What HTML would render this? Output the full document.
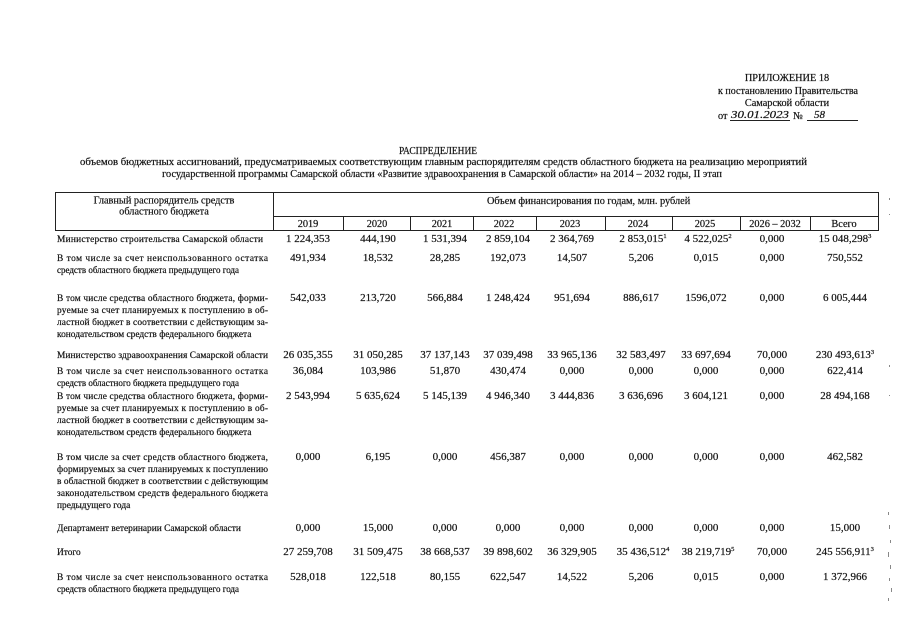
<!DOCTYPE html>
<html><head><meta charset="utf-8"><style>
html,body{margin:0;padding:0;background:#fff;}
svg{display:block;}
text{font-family:"Liberation Serif",serif;fill:#111;font-size:10.3px;stroke:#111;stroke-width:0.2;}
.n text{font-size:11px;}
.lb text{font-size:9.4px;}
.l{stroke:#222;stroke-width:1;fill:none;}
</style></head><body>
<svg width="905" height="640" viewBox="0 0 905 640" xmlns="http://www.w3.org/2000/svg">
<rect width="905" height="640" fill="#fff"/>
<!-- top right block -->
<text x="787" y="81" text-anchor="middle">ПРИЛОЖЕНИЕ 18</text>
<text x="788" y="94" text-anchor="middle" textLength="140" lengthAdjust="spacingAndGlyphs">к постановлению Правительства</text>
<text x="787" y="106" text-anchor="middle">Самарской области</text>
<text x="718" y="119">от</text>
<text x="731" y="118" style="font-style:italic;font-size:11px" textLength="58" lengthAdjust="spacingAndGlyphs">30.01.2023</text>
<text x="793" y="119">№</text>
<text x="814" y="118" style="font-style:italic;font-size:11px">58</text>
<line class="l" x1="730" y1="120.5" x2="790" y2="120.5" stroke-width="0.8"/>
<line class="l" x1="807" y1="120.5" x2="858" y2="120.5" stroke-width="0.8"/>
<!-- title -->
<text x="399" y="154" textLength="78" lengthAdjust="spacingAndGlyphs">РАСПРЕДЕЛЕНИЕ</text>
<text x="80" y="165" textLength="727" lengthAdjust="spacingAndGlyphs">объемов бюджетных ассигнований, предусматриваемых соответствующим главным распорядителям средств областного бюджета на реализацию мероприятий</text>
<text x="442" y="177" text-anchor="middle">государственной программы Самарской области «Развитие здравоохранения в Самарской области» на 2014 – 2032 годы, II этап</text>
<!-- table header lines -->
<line class="l" x1="55" y1="192.5" x2="879" y2="192.5"/>
<line class="l" x1="273" y1="216.5" x2="879" y2="216.5"/>
<line class="l" x1="55" y1="230.5" x2="879" y2="230.5"/>
<line class="l" x1="55.5" y1="192" x2="55.5" y2="231"/>
<line class="l" x1="273.5" y1="192" x2="273.5" y2="231"/>
<line class="l" x1="878.5" y1="192" x2="878.5" y2="231"/>
<line class="l" x1="343.5" y1="216" x2="343.5" y2="231" stroke-width="1.6"/>
<line class="l" x1="410.5" y1="216" x2="410.5" y2="231"/>
<line class="l" x1="473.5" y1="216" x2="473.5" y2="231"/>
<line class="l" x1="536.5" y1="216" x2="536.5" y2="231"/>
<line class="l" x1="605.5" y1="216" x2="605.5" y2="231"/>
<line class="l" x1="672.5" y1="216" x2="672.5" y2="231"/>
<line class="l" x1="740.5" y1="216" x2="740.5" y2="231"/>
<line class="l" x1="810.5" y1="216" x2="810.5" y2="231"/>
<text x="164" y="203.5" text-anchor="middle">Главный распорядитель средств</text>
<text x="164" y="214.5" text-anchor="middle">областного бюджета</text>
<text x="487" y="204">Объем финансирования по годам, млн. рублей</text>
<g text-anchor="middle">
<text x="308" y="227">2019</text>
<text x="377" y="227">2020</text>
<text x="442" y="227">2021</text>
<text x="504" y="227">2022</text>
<text x="570" y="227">2023</text>
<text x="638" y="227">2024</text>
<text x="705" y="227">2025</text>
<text x="775" y="227">2026 – 2032</text>
<text x="844" y="227">Всего</text>
</g>
<!-- labels -->
<g class="lb">
<text x="57" y="242" textLength="206" lengthAdjust="spacing">Министерство строительства Самарской области</text>
<text x="57" y="261" textLength="211" lengthAdjust="spacing">В том числе за счет неиспользованного остатка</text>
<text x="57" y="273" textLength="182" lengthAdjust="spacingAndGlyphs">средств областного бюджета предыдущего года</text>
<text x="57" y="301" textLength="211" lengthAdjust="spacing">В том числе средства областного бюджета, форми-</text>
<text x="57" y="313" textLength="211" lengthAdjust="spacing">руемые за счет планируемых к поступлению в об-</text>
<text x="57" y="325" textLength="211" lengthAdjust="spacing">ластной бюджет в соответствии с действующим за-</text>
<text x="57" y="337">конодательством средств федерального бюджета</text>
<text x="57" y="358" textLength="211" lengthAdjust="spacing">Министерство здравоохранения Самарской области</text>
<text x="57" y="374" textLength="211" lengthAdjust="spacing">В том числе за счет неиспользованного остатка</text>
<text x="57" y="386" textLength="182" lengthAdjust="spacingAndGlyphs">средств областного бюджета предыдущего года</text>
<text x="57" y="399" textLength="211" lengthAdjust="spacing">В том числе средства областного бюджета, форми-</text>
<text x="57" y="411" textLength="211" lengthAdjust="spacing">руемые за счет планируемых к поступлению в об-</text>
<text x="57" y="423" textLength="211" lengthAdjust="spacing">ластной бюджет в соответствии с действующим за-</text>
<text x="57" y="435">конодательством средств федерального бюджета</text>
<text x="57" y="460" textLength="211" lengthAdjust="spacing">В том числе за счет средств областного бюджета,</text>
<text x="57" y="472" textLength="211" lengthAdjust="spacing">формируемых за счет планируемых к поступлению</text>
<text x="57" y="484" textLength="211" lengthAdjust="spacing">в областной бюджет в соответствии с действующим</text>
<text x="57" y="496" textLength="211" lengthAdjust="spacing">законодательством средств федерального бюджета</text>
<text x="57" y="508">предыдущего года</text>
<text x="57" y="531">Департамент ветеринарии Самарской области</text>
<text x="57" y="555">Итого</text>
<text x="57" y="580" textLength="211" lengthAdjust="spacing">В том числе за счет неиспользованного остатка</text>
<text x="57" y="592" textLength="182" lengthAdjust="spacingAndGlyphs">средств областного бюджета предыдущего года</text>
</g>
<!-- values -->
<g text-anchor="middle" class="n">
<!-- row A -->
<text x="308" y="242">1 224,353</text>
<text x="378" y="242">444,190</text>
<text x="445" y="242">1 531,394</text>
<text x="508" y="242">2 859,104</text>
<text x="572" y="242">2 364,769</text>
<text x="643" y="242">2 853,015<tspan dy="-4" font-size="6.5">1</tspan></text>
<text x="708" y="242">4 522,025<tspan dy="-4" font-size="6.5">2</tspan></text>
<text x="772" y="242">0,000</text>
<text x="845" y="242">15 048,298<tspan dy="-4" font-size="6.5">3</tspan></text>
<!-- row B -->
<text x="308" y="261">491,934</text>
<text x="378" y="261">18,532</text>
<text x="445" y="261">28,285</text>
<text x="508" y="261">192,073</text>
<text x="572" y="261">14,507</text>
<text x="641" y="261">5,206</text>
<text x="706" y="261">0,015</text>
<text x="772" y="261">0,000</text>
<text x="845" y="261">750,552</text>
<!-- row C -->
<text x="308" y="301">542,033</text>
<text x="378" y="301">213,720</text>
<text x="445" y="301">566,884</text>
<text x="508" y="301">1 248,424</text>
<text x="572" y="301">951,694</text>
<text x="641" y="301">886,617</text>
<text x="706" y="301">1596,072</text>
<text x="772" y="301">0,000</text>
<text x="845" y="301">6 005,444</text>
<!-- row D -->
<text x="308" y="358">26 035,355</text>
<text x="378" y="358">31 050,285</text>
<text x="445" y="358">37 137,143</text>
<text x="508" y="358">37 039,498</text>
<text x="572" y="358">33 965,136</text>
<text x="641" y="358">32 583,497</text>
<text x="706" y="358">33 697,694</text>
<text x="772" y="358">70,000</text>
<text x="845" y="358">230 493,613<tspan dy="-4" font-size="6.5">3</tspan></text>
<!-- row E -->
<text x="308" y="374">36,084</text>
<text x="378" y="374">103,986</text>
<text x="445" y="374">51,870</text>
<text x="508" y="374">430,474</text>
<text x="572" y="374">0,000</text>
<text x="641" y="374">0,000</text>
<text x="706" y="374">0,000</text>
<text x="772" y="374">0,000</text>
<text x="845" y="374">622,414</text>
<!-- row F -->
<text x="308" y="399">2 543,994</text>
<text x="378" y="399">5 635,624</text>
<text x="445" y="399">5 145,139</text>
<text x="508" y="399">4 946,340</text>
<text x="572" y="399">3 444,836</text>
<text x="641" y="399">3 636,696</text>
<text x="706" y="399">3 604,121</text>
<text x="772" y="399">0,000</text>
<text x="845" y="399">28 494,168</text>
<!-- row G -->
<text x="308" y="460">0,000</text>
<text x="378" y="460">6,195</text>
<text x="445" y="460">0,000</text>
<text x="508" y="460">456,387</text>
<text x="572" y="460">0,000</text>
<text x="641" y="460">0,000</text>
<text x="706" y="460">0,000</text>
<text x="772" y="460">0,000</text>
<text x="845" y="460">462,582</text>
<!-- row H -->
<text x="308" y="531">0,000</text>
<text x="378" y="531">15,000</text>
<text x="445" y="531">0,000</text>
<text x="508" y="531">0,000</text>
<text x="572" y="531">0,000</text>
<text x="641" y="531">0,000</text>
<text x="706" y="531">0,000</text>
<text x="772" y="531">0,000</text>
<text x="845" y="531">15,000</text>
<!-- row I -->
<text x="308" y="555">27 259,708</text>
<text x="378" y="555">31 509,475</text>
<text x="445" y="555">38 668,537</text>
<text x="508" y="555">39 898,602</text>
<text x="572" y="555">36 329,905</text>
<text x="643" y="555">35 436,512<tspan dy="-4" font-size="6.5">4</tspan></text>
<text x="708" y="555">38 219,719<tspan dy="-4" font-size="6.5">5</tspan></text>
<text x="772" y="555">70,000</text>
<text x="845" y="555">245 556,911<tspan dy="-4" font-size="6.5">3</tspan></text>
<!-- row J -->
<text x="308" y="580">528,018</text>
<text x="378" y="580">122,518</text>
<text x="445" y="580">80,155</text>
<text x="508" y="580">622,547</text>
<text x="572" y="580">14,522</text>
<text x="641" y="580">5,206</text>
<text x="706" y="580">0,015</text>
<text x="772" y="580">0,000</text>
<text x="845" y="580">1 372,966</text>
</g>
<!-- scan specks on right edge -->
<g fill="#888">
<rect x="889" y="198" width="1" height="2"/>
<rect x="889" y="214" width="1" height="1"/>
<rect x="889" y="365" width="1" height="2"/>
<rect x="889" y="395" width="1" height="1"/>
<rect x="888" y="512" width="1" height="3"/>
<rect x="889" y="525" width="1" height="4"/>
<rect x="890" y="540" width="1" height="3"/>
<rect x="888" y="552" width="1" height="5"/>
<rect x="890" y="565" width="1" height="4"/>
<rect x="889" y="578" width="1" height="3"/>
<rect x="891" y="588" width="1" height="4"/>
<rect x="888" y="598" width="1" height="3"/>
</g>
</svg>
</body></html>
